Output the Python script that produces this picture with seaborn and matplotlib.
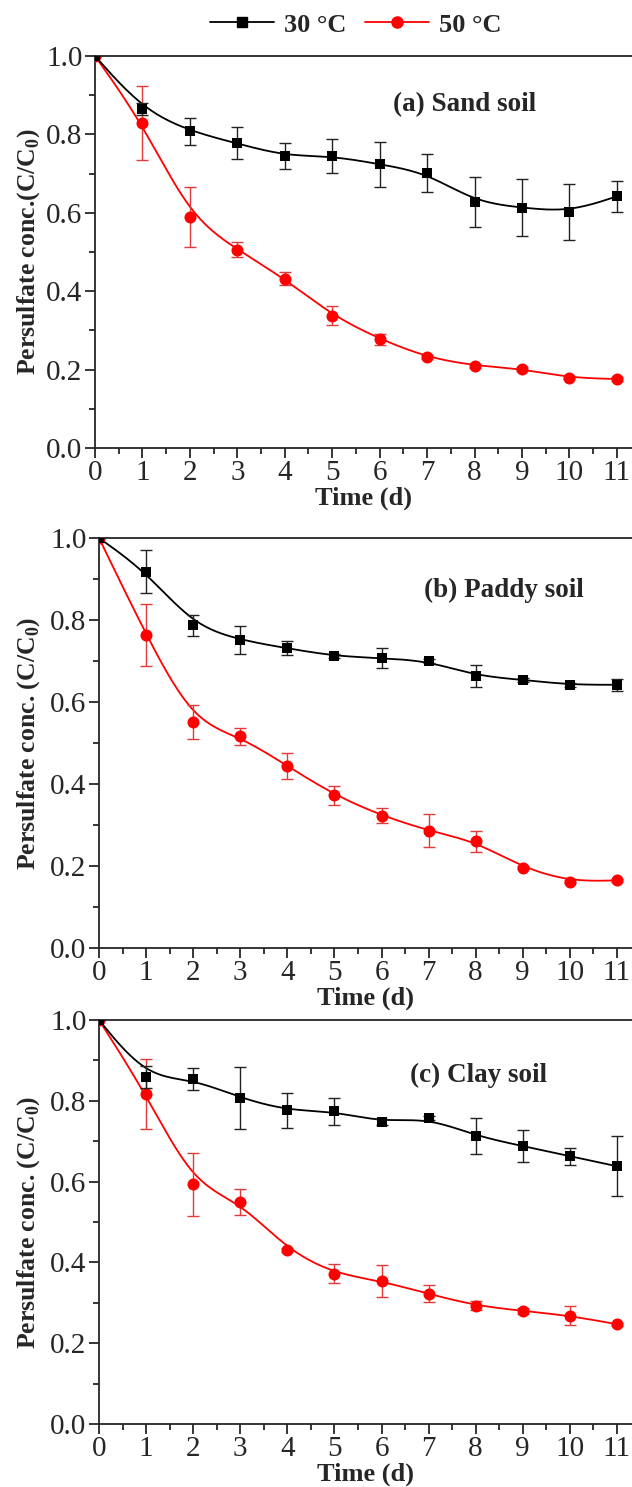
import matplotlib
matplotlib.use("Agg")
import matplotlib.pyplot as plt
from matplotlib.ticker import MultipleLocator
from matplotlib.lines import Line2D
import seaborn as sns
import numpy as np

# Tempo de amostragem (d)
tiempo = [0, 1, 2, 3, 4, 5, 6, 7, 8, 9, 10, 11]

# (a) Sand soil
sand_30 = [1.0, 0.864, 0.808, 0.777, 0.745, 0.745, 0.724, 0.702, 0.628, 0.613, 0.602, 0.642]
sand_30_err = [0, 0.015, 0.034, 0.041, 0.032, 0.043, 0.057, 0.048, 0.063, 0.073, 0.071, 0.040]
sand_50 = [1.0, 0.829, 0.590, 0.506, 0.432, 0.338, 0.278, 0.231, 0.210, 0.202, 0.179, 0.176]
sand_50_err = [0, 0.095, 0.076, 0.019, 0.017, 0.023, 0.014, 0.005, 0.005, 0.005, 0.004, 0.004]

# (b) Paddy soil
paddy_30 = [1.0, 0.918, 0.787, 0.751, 0.731, 0.712, 0.707, 0.700, 0.664, 0.654, 0.642, 0.642]
paddy_30_err = [0, 0.052, 0.025, 0.034, 0.017, 0.005, 0.025, 0.005, 0.027, 0.005, 0.005, 0.015]
paddy_50 = [1.0, 0.763, 0.551, 0.516, 0.444, 0.373, 0.323, 0.286, 0.260, 0.196, 0.162, 0.165]
paddy_50_err = [0, 0.075, 0.042, 0.020, 0.031, 0.023, 0.019, 0.040, 0.025, 0.004, 0.004, 0.004]

# (c) Clay soil
clay_30 = [1.0, 0.858, 0.854, 0.807, 0.776, 0.774, 0.747, 0.758, 0.713, 0.688, 0.663, 0.638]
clay_30_err = [0, 0.027, 0.028, 0.077, 0.043, 0.033, 0.008, 0.005, 0.044, 0.040, 0.021, 0.074]
clay_50 = [1.0, 0.817, 0.593, 0.550, 0.431, 0.372, 0.354, 0.322, 0.293, 0.280, 0.268, 0.247]
clay_50_err = [0, 0.087, 0.077, 0.032, 0.005, 0.024, 0.039, 0.021, 0.012, 0.007, 0.024, 0.004]

paineis = [
    ("(a) Sand soil", sand_30, sand_30_err, sand_50, sand_50_err,
     "Persulfate conc.(C/C$_{\\mathbf{0}}$)"),
    ("(b) Paddy soil", paddy_30, paddy_30_err, paddy_50, paddy_50_err,
     "Persulfate conc. (C/C$_{\\mathbf{0}}$)"),
    ("(c) Clay soil", clay_30, clay_30_err, clay_50, clay_50_err,
     "Persulfate conc. (C/C$_{\\mathbf{0}}$)"),
]


def bspline(x, y, n=40):
    # B-spline cúbica (como a linha "B-Spline" do Origin), pontas presas
    P = np.column_stack([x, y]).astype(float)
    P = np.vstack([P[:1], P[:1], P, P[-1:], P[-1:]])
    t = np.linspace(0, 1, n)[:, None]
    b0 = (1 - t) ** 3 / 6
    b1 = (3 * t ** 3 - 6 * t ** 2 + 4) / 6
    b2 = (-3 * t ** 3 + 3 * t ** 2 + 3 * t + 1) / 6
    b3 = t ** 3 / 6
    seg = [b0 * P[i] + b1 * P[i + 1] + b2 * P[i + 2] + b3 * P[i + 3]
           for i in range(len(P) - 3)]
    curva = np.vstack(seg)
    return curva[:, 0], curva[:, 1]


sns.set_theme(style="ticks")
plt.rcParams["font.family"] = ["Liberation Serif", "DejaVu Serif"]
plt.rcParams["mathtext.fontset"] = "custom"
plt.rcParams["mathtext.rm"] = "Liberation Serif"
plt.rcParams["mathtext.bf"] = "Liberation Serif:bold"
plt.rcParams["axes.linewidth"] = 1.3

fig = plt.figure(figsize=(6.32, 14.87), dpi=100)

# posições em pixels: (esquerda, topo, baixo)
posicoes = [(95, 56, 448), (99, 538, 948), (99, 1020, 1424)]
label_pos = [(7.8, 0.875), (8.6, 0.873), (8.05, 0.862)]

for k, (titulo, y30, e30, y50, e50, ylab) in enumerate(paineis):
    esq, topo, baixo = posicoes[k]
    ax = fig.add_axes([esq / 632, 1 - baixo / 1487, 1 - esq / 632, (baixo - topo) / 1487])

    # 50 °C
    xs, ys = bspline(tiempo, y50)
    sns.lineplot(x=xs, y=ys, ax=ax, color="red", lw=1.3, sort=False, estimator=None)
    ax.errorbar(tiempo, y50, yerr=e50, fmt="none", ecolor="#e23a3a", elinewidth=1.0,
                capsize=4, capthick=1.0, zorder=3)
    sns.scatterplot(x=tiempo, y=y50, ax=ax, marker="o", color="red", s=75,
                    edgecolor="red", linewidth=0, zorder=4)

    # 30 °C
    xs, ys = bspline(tiempo, y30)
    sns.lineplot(x=xs, y=ys, ax=ax, color="black", lw=1.3, sort=False, estimator=None)
    ax.errorbar(tiempo, y30, yerr=e30, fmt="none", ecolor="#222222", elinewidth=1.0,
                capsize=4, capthick=1.0, zorder=5)
    sns.scatterplot(x=tiempo, y=y30, ax=ax, marker="s", color="black", s=60,
                    edgecolor="black", linewidth=0, zorder=6)

    ax.set_xlim(0, 11.32)
    ax.set_ylim(0, 1.0)
    ax.xaxis.set_major_locator(MultipleLocator(1))
    ax.xaxis.set_minor_locator(MultipleLocator(0.5))
    ax.yaxis.set_major_locator(MultipleLocator(0.2))
    ax.yaxis.set_minor_locator(MultipleLocator(0.1))
    ax.yaxis.set_major_formatter(matplotlib.ticker.FormatStrFormatter("%.1f"))
    ax.tick_params(which="major", direction="out", length=7, width=1.3, labelsize=21,
                   top=False, right=False, pad=2)
    ax.tick_params(which="minor", direction="out", length=4, width=1.3,
                   top=False, right=False)
    ax.spines["right"].set_visible(False)
    ax.spines["top"].set_visible(True)

    ax.set_xlabel("Time (d)", fontsize=19, fontweight="bold", labelpad=0)
    ax.set_ylabel(ylab, fontsize=18.5, fontweight="bold")
    ax.yaxis.set_label_coords((42 - esq) / (632 - esq), 0.5)

    ax.text(label_pos[k][0], label_pos[k][1], titulo, fontsize=19.5, fontweight="bold",
            ha="center", va="center")

# legenda no topo
handles = [
    Line2D([], [], color="black", lw=1.3, marker="s", markersize=7),
    Line2D([], [], color="red", lw=1.3, marker="o", markersize=8),
]
fig.legend(handles, ["30 °C", "50 °C"], loc="center", bbox_to_anchor=(356 / 632, 1 - 25 / 1487),
           ncol=2, frameon=False, handlelength=2.4, columnspacing=0.7, handletextpad=0.4,
           prop={"weight": "bold", "size": 19})

plt.savefig("out.png", dpi=100)
